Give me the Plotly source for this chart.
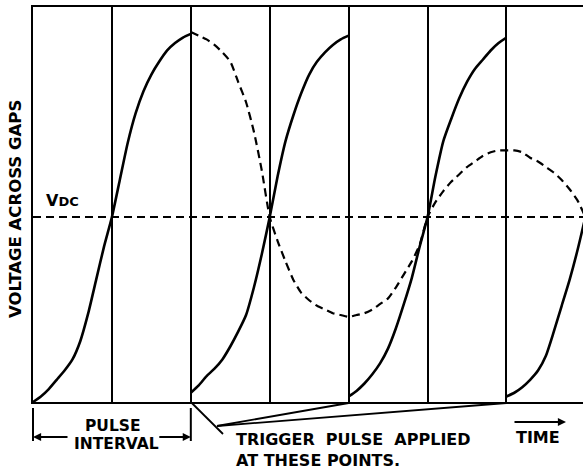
import plotly.graph_objects as go

# ---------------- data ----------------
vdc = 1.0
pulse_starts = [0, 2, 4, 6]            # start of each pulse interval (time units)
trigger_points = [2, 4, 6]             # trigger pulse applied here
x_local = [i / 10 for i in range(21)]  # 0.0 .. 2.0 within one interval

pulse1 = [0.00, 0.03, 0.07, 0.12, 0.17, 0.23, 0.33, 0.48, 0.66, 0.84, 1.00,
          1.20, 1.40, 1.56, 1.68, 1.77, 1.84, 1.90, 1.94, 1.97, 1.99]
pulse2 = [0.05, 0.09, 0.14, 0.18, 0.23, 0.30, 0.38, 0.47, 0.62, 0.80, 1.00,
          1.22, 1.41, 1.55, 1.67, 1.77, 1.84, 1.89, 1.93, 1.96, 1.98]
pulse3 = [0.03, 0.06, 0.10, 0.15, 0.21, 0.29, 0.40, 0.53, 0.67, 0.84, 1.00,
          1.22, 1.41, 1.53, 1.64, 1.73, 1.80, 1.85, 1.90, 1.94, 1.97]
pulse4 = [0.03, 0.05, 0.08, 0.12, 0.17, 0.25, 0.38, 0.52, 0.66, 0.82, 1.00]

ring_x = [2 + i / 10 for i in range(51)]  # 2.0 .. 7.0
ring_y = [2.00, 1.98, 1.96, 1.93, 1.89, 1.84, 1.73, 1.62, 1.46, 1.25, 1.00,
          0.87, 0.76, 0.66, 0.59, 0.55, 0.52, 0.50, 0.48, 0.47, 0.46,
          0.47, 0.48, 0.50, 0.53, 0.56, 0.62, 0.69, 0.76, 0.85, 1.00,
          1.08, 1.14, 1.19, 1.23, 1.27, 1.30, 1.33, 1.35, 1.36, 1.36,
          1.36, 1.35, 1.32, 1.30, 1.27, 1.24, 1.20, 1.15, 1.09, 1.00]

# ---------------- layout geometry ----------------
W, H = 583, 471
ML, MR, MT, MB = 33, 0, 7, 69
XMAX, YMAX = 6.97, 2.135
PW, PH = W - ML - MR, H - MT - MB

def px(xpix):
    return (xpix - ML) / PW

def py(ypix):
    return (H - MB - ypix) / PH

def dx(xdata):
    return xdata / XMAX

FONT = "DejaVu Sans"
INK = "#000000"

fig = go.Figure()

# solid pulse curves
for start, ys in zip(pulse_starts, [pulse1, pulse2, pulse3, pulse4]):
    fig.add_trace(go.Scatter(
        x=[start + xl for xl in x_local[:len(ys)]], y=ys, mode="lines",
        line=dict(color=INK, width=2.6, shape="spline", smoothing=0.6),
        hoverinfo="skip", showlegend=False))

# dashed ringing curve
fig.add_trace(go.Scatter(
    x=ring_x, y=ring_y, mode="lines",
    line=dict(color=INK, width=2.2, dash="8px,5px", shape="spline", smoothing=0.6),
    hoverinfo="skip", showlegend=False))

# VDC dashed reference line
fig.add_trace(go.Scatter(
    x=[0, 7], y=[vdc, vdc], mode="lines",
    line=dict(color=INK, width=2, dash="8px,5px"),
    hoverinfo="skip", showlegend=False))

shapes = []
ann = []

def txt(text, x, y, size, xanchor="center", angle=0, align="center"):
    ann.append(dict(text=text, x=x, y=y, xref="paper", yref="paper",
                    xanchor=xanchor, yanchor="middle", showarrow=False,
                    textangle=angle, align=align,
                    font=dict(family=FONT, size=size, color=INK, weight="bold")))

# axis title
txt("VOLTAGE ACROSS GAPS", px(15), py(209), 16.5, angle=-90)
# VDC label
txt("V<span style='font-size:13px'>DC</span>", px(62), py(201), 16)
# pulse interval
txt("PULSE", px(113), py(426), 15.5)
txt("INTERVAL", px(116), py(444), 15.5)
# trigger text
txt("TRIGGER&nbsp; PULSE&nbsp; APPLIED<br>AT THESE POINTS.", px(234), py(450), 16,
    xanchor="left", align="left")
# time
txt("TIME", px(538), py(437), 16)

# pulse interval bracket ticks
for xd in [pulse_starts[0], pulse_starts[1]]:
    shapes.append(dict(type="line", xref="paper", yref="paper",
                       x0=dx(xd), x1=dx(xd), y0=py(408), y1=py(441),
                       line=dict(color=INK, width=2)))
# bracket arrows
for xd, off in [(pulse_starts[0], 36), (pulse_starts[1], -33)]:
    ann.append(dict(text="", x=dx(xd), y=py(437), xref="paper", yref="paper",
                    ax=off, ay=0, showarrow=True, arrowhead=2, arrowsize=0.9,
                    arrowwidth=1.8, arrowcolor=INK))

# trigger pointer lines
shapes.append(dict(type="line", xref="paper", yref="paper",
                   x0=dx(trigger_points[0]), y0=0, x1=px(223), y1=py(434),
                   line=dict(color=INK, width=1.8)))
for tp in trigger_points[1:]:
    shapes.append(dict(type="line", xref="paper", yref="paper",
                       x0=px(217), y0=py(426), x1=dx(tp), y1=py(403),
                       line=dict(color=INK, width=1.8)))

# time arrow
ann.append(dict(text="", x=px(566), y=py(422), xref="paper", yref="paper",
                ax=-53, ay=0, showarrow=True, arrowhead=2, arrowsize=0.9,
                arrowwidth=1.8, arrowcolor=INK))

fig.update_layout(
    width=W, height=H,
    margin=dict(l=ML, r=MR, t=MT, b=MB),
    paper_bgcolor="white", plot_bgcolor="white",
    showlegend=False,
    shapes=shapes, annotations=ann,
    xaxis=dict(range=[0, XMAX], showline=True, mirror=True, linecolor=INK,
               linewidth=2, showgrid=True, gridcolor=INK, gridwidth=1.8,
               tickvals=[1, 2, 3, 4, 5, 6], showticklabels=False, ticks="",
               zeroline=False, fixedrange=True),
    yaxis=dict(range=[0, YMAX], showline=True, mirror=False, linecolor=INK,
               linewidth=2, showgrid=False, showticklabels=False, ticks="",
               zeroline=False, fixedrange=True),
)

fig.write_html("out.html", config={"displayModeBar": False},
               post_script="document.body.style.margin='0';"
                           "document.body.style.overflow='hidden';")
